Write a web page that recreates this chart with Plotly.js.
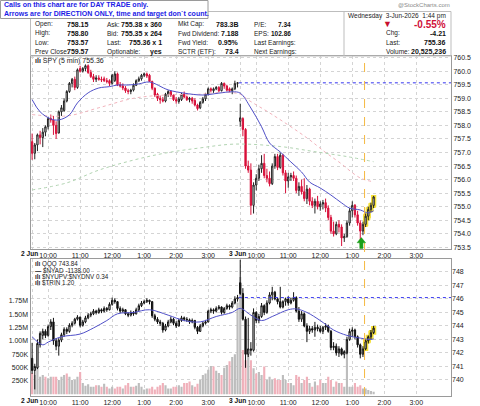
<!DOCTYPE html>
<html><head><meta charset="utf-8">
<script src="https://cdn.plot.ly/plotly-3.0.1.min.js"></script>
<style>html,body{margin:0;padding:0;background:#fff}#chart{width:480px;height:406px}</style>
</head><body><div id="chart"></div>
<script>
// ---------- SPY 5-min bars: 2 Jun (78 bars) then 3 Jun (51 bars) ----------
const spyO = [757.40,756.97,757.28,757.65,757.55,757.75,757.95,758.25,758.20,758.00,757.72,758.50,758.55,758.90,759.25,759.55,759.70,759.40,760.10,760.00,760.10,760.20,759.95,759.80,759.70,759.75,759.70,759.72,759.65,759.65,759.55,759.65,759.90,759.50,759.45,759.38,759.28,759.25,759.30,759.48,759.65,759.72,759.85,759.90,759.85,759.62,759.37,759.15,759.00,758.95,758.90,759.15,759.25,759.12,758.95,758.88,758.95,759.15,759.05,758.95,759.00,758.92,758.75,758.65,758.85,758.98,759.15,759.35,759.28,759.35,759.40,759.28,759.55,759.45,759.35,759.28,759.35,759.55,
 758.15,758.25,757.85,756.50,756.35,755.05,755.80,756.05,756.40,756.60,756.15,756.05,755.85,756.50,756.85,756.45,756.90,756.25,755.95,756.10,756.15,756.05,755.60,755.75,755.55,755.30,755.65,755.20,755.05,755.20,755.00,755.10,755.15,754.95,754.60,754.10,754.00,754.35,754.25,753.85,753.90,754.40,754.85,755.05,754.70,754.40,754.10,754.35,754.65,754.90,755.05];
const spyH = [757.70,757.35,757.70,757.80,757.90,758.00,758.30,758.40,758.35,758.15,758.55,758.75,759.00,759.30,759.60,759.75,759.80,760.10,760.20,760.15,760.25,760.25,760.05,759.90,759.85,759.85,759.80,759.80,759.75,759.70,759.90,760.00,759.95,759.60,759.55,759.45,759.35,759.35,759.55,759.70,759.80,759.90,759.95,759.95,759.90,759.65,759.40,759.20,759.10,759.05,759.20,759.30,759.30,759.15,759.05,759.05,759.20,759.25,759.10,759.05,759.05,759.00,758.80,758.90,759.05,759.20,759.40,759.40,759.40,759.45,759.45,759.60,759.58,759.50,759.40,759.40,759.65,759.60,
 758.80,758.30,757.90,756.70,756.60,755.90,756.20,756.55,756.90,756.95,756.40,756.30,756.60,756.95,756.95,757.00,756.95,756.35,756.25,756.25,756.30,756.15,755.90,756.00,756.05,755.80,755.70,755.35,755.30,755.40,755.20,755.25,755.30,755.05,754.70,754.45,754.45,754.50,754.35,754.00,754.50,754.95,755.20,755.10,754.85,754.50,754.45,754.75,755.00,755.15,755.40];
const spyL = [756.73,756.75,757.05,757.30,757.20,757.60,757.85,758.10,757.65,757.50,757.70,758.35,758.50,758.85,759.20,759.40,759.30,759.35,759.95,759.95,760.00,759.90,759.75,759.60,759.60,759.65,759.60,759.60,759.55,759.45,759.50,759.60,759.45,759.40,759.30,759.20,759.15,759.15,759.25,759.45,759.60,759.65,759.78,759.75,759.60,759.30,759.05,758.90,758.80,758.85,758.85,759.05,759.05,758.90,758.80,758.80,758.90,759.00,758.90,758.85,758.80,758.70,758.55,758.60,758.80,758.90,759.10,759.22,759.20,759.30,759.22,759.25,759.35,759.25,759.22,759.15,759.30,759.40,
 757.95,757.60,756.40,756.25,754.70,754.75,755.60,755.95,756.25,756.05,755.90,755.75,755.80,756.40,756.35,756.40,756.15,755.50,755.70,755.95,755.95,755.50,755.40,755.45,755.20,755.10,755.05,754.95,754.75,754.90,754.85,754.90,754.80,754.50,754.00,753.90,753.95,754.05,753.55,753.70,753.85,754.30,754.60,754.60,754.30,753.60,753.95,754.25,754.50,754.80,754.95];
const spyC = [756.97,757.28,757.65,757.55,757.75,757.95,758.25,758.20,758.00,757.70,758.50,758.65,758.90,759.25,759.55,759.70,759.40,760.05,760.00,760.10,760.20,759.95,759.80,759.70,759.75,759.70,759.68,759.65,759.62,759.55,759.85,759.90,759.50,759.45,759.38,759.28,759.25,759.30,759.48,759.65,759.72,759.85,759.90,759.82,759.62,759.37,759.12,759.00,758.95,758.90,759.15,759.25,759.12,758.95,758.90,758.98,759.15,759.05,758.95,759.00,758.90,758.75,758.62,758.85,758.98,759.15,759.35,759.30,759.35,759.40,759.28,759.55,759.45,759.30,759.28,759.35,759.55,759.57,
 758.28,757.85,756.50,756.35,755.05,755.80,756.05,756.40,756.60,756.15,756.05,755.85,756.50,756.85,756.45,756.90,756.25,755.95,756.10,756.15,756.05,755.60,755.75,755.55,755.30,755.65,755.20,755.05,755.20,755.00,755.10,755.15,754.95,754.60,754.10,754.00,754.35,754.25,753.85,753.90,754.40,754.85,755.05,754.70,754.40,754.10,754.35,754.65,754.90,755.05,755.36];

// SPY moving averages (bar index, value)
const spyMaBlueIdx = [0,3,7,10,14,17,21,25,29,32,36,40,44,51,57,64,70,75,78,82,86,89,93,97,101,104,108,112,116,119,123,126,128];
const spyMaBlueVal = [758.95,758.50,758.24,758.20,758.39,758.83,759.20,759.38,759.43,759.49,759.49,759.53,759.60,759.31,759.19,759.12,759.19,759.24,759.19,758.64,757.95,757.35,757.02,756.65,756.28,755.91,755.69,755.43,755.14,754.95,754.88,754.77,754.85];
const spyMaPinkIdx = [0,13,25,38,50,63,72,78,81,90,103,110,115,123,128];
const spyMaPinkVal = [758.40,758.35,758.65,759.00,759.12,759.15,759.22,759.15,758.94,758.40,757.54,757.00,756.65,756.06,755.92];
const spyMaGreenIdx = [0,13,25,38,50,63,76,93,106,118,128];
const spyMaGreenVal = [755.62,755.88,756.35,756.72,756.98,757.17,757.31,757.22,757.03,756.85,756.66];

// ---------- QQQ 5-min bars ----------
const qqqO = [741.60,740.70,740.90,742.60,743.30,743.60,743.30,743.95,744.30,742.90,742.50,742.95,743.35,743.75,743.60,744.05,744.20,744.50,744.65,744.05,744.30,744.60,744.80,744.90,745.10,745.00,745.20,745.10,745.30,745.20,745.60,745.90,745.80,745.30,745.10,745.20,744.90,744.80,745.00,744.90,745.20,745.50,745.70,745.80,745.90,745.80,744.75,744.50,744.30,744.20,743.70,744.00,744.30,744.50,744.20,744.00,744.40,744.60,744.50,744.45,744.30,744.40,743.90,743.60,744.00,744.20,744.30,745.10,745.20,745.10,745.30,745.40,745.00,745.30,745.50,745.40,745.70,746.00,
 747.20,746.40,744.50,741.90,742.30,742.20,745.00,744.40,744.70,745.50,745.00,745.70,746.30,746.50,746.00,745.80,745.40,745.80,746.00,745.70,745.90,746.10,745.10,744.50,744.90,744.00,743.60,743.80,743.70,743.90,743.80,743.60,743.90,744.00,743.60,742.40,742.50,742.00,742.30,741.90,742.00,743.00,743.60,743.70,743.20,742.60,741.90,742.30,742.90,743.20,743.50];
const qqqH = [742.75,741.20,743.00,743.60,743.80,743.75,744.10,744.50,744.60,743.10,743.10,743.50,743.90,743.90,744.20,744.35,744.60,744.80,744.70,744.45,744.75,744.95,745.05,745.25,745.20,745.35,745.30,745.45,745.40,745.75,746.10,746.05,745.85,745.45,745.35,745.25,745.00,745.15,745.10,745.35,745.65,745.85,745.95,746.05,745.95,745.85,744.90,744.65,744.45,744.30,744.15,744.45,744.70,744.60,744.35,744.55,744.75,744.70,744.65,744.55,744.55,744.45,744.00,744.15,744.35,744.45,745.20,745.35,745.30,745.45,745.55,745.45,745.40,745.65,745.60,745.85,746.20,746.30,
 748.90,746.80,744.70,744.60,742.80,745.30,745.10,744.90,745.70,745.60,745.90,746.50,746.90,746.60,746.10,746.90,745.90,746.10,746.20,746.10,746.50,746.20,745.40,745.10,745.00,744.20,744.00,744.00,744.30,744.10,744.00,744.00,744.20,744.10,743.70,742.80,742.70,742.50,742.40,742.20,743.20,743.80,743.90,743.80,743.30,742.70,742.50,743.00,743.30,743.70,744.00];
const qqqL = [740.45,739.30,740.80,742.40,743.00,743.10,743.20,743.70,742.60,742.20,741.80,742.80,743.20,743.40,743.50,743.90,744.10,744.40,743.90,743.95,744.20,744.50,744.65,744.80,744.85,744.90,744.95,745.00,745.05,745.15,745.50,745.65,745.15,744.95,745.00,744.80,744.65,744.70,744.75,744.85,745.10,745.40,745.60,745.70,745.60,744.60,744.35,744.15,744.00,743.50,743.60,743.90,744.20,744.05,743.85,743.95,744.30,744.35,744.30,744.15,744.20,743.75,743.40,743.55,743.90,744.10,744.25,744.95,744.90,745.00,745.20,744.85,744.90,745.20,745.20,745.30,745.60,745.80,
 746.30,744.40,740.90,741.70,741.80,742.10,744.20,744.20,744.60,744.80,744.90,745.60,745.90,745.90,745.60,745.30,745.30,745.50,745.50,745.60,745.80,745.00,744.30,744.30,743.90,742.80,743.40,743.50,743.20,743.60,743.50,743.40,743.70,743.50,742.20,742.20,741.80,741.70,741.80,741.60,741.90,742.90,743.20,743.00,742.40,741.60,741.70,742.20,742.70,743.00,743.40];
const qqqC = [740.70,741.00,742.70,743.45,743.60,743.30,743.95,744.30,742.90,742.50,742.95,743.35,743.75,743.60,744.05,744.20,744.50,744.65,744.05,744.30,744.60,744.80,744.90,745.10,745.00,745.20,745.10,745.30,745.20,745.60,745.90,745.80,745.30,745.10,745.20,744.90,744.80,745.00,744.90,745.20,745.50,745.70,745.80,745.90,745.80,744.75,744.50,744.30,744.20,743.70,744.00,744.30,744.50,744.20,744.00,744.40,744.60,744.50,744.45,744.30,744.40,743.90,743.60,744.00,744.20,744.30,745.10,745.20,745.10,745.30,745.40,745.00,745.30,745.50,745.40,745.70,746.00,746.10,
 746.40,744.50,741.90,742.30,742.20,745.00,744.40,744.70,745.50,745.00,745.70,746.30,746.50,746.00,745.80,745.40,745.80,746.00,745.70,745.90,746.10,745.10,744.50,744.90,744.00,743.60,743.80,743.70,743.90,743.80,743.60,743.90,744.00,743.60,742.40,742.50,742.00,742.30,741.90,742.10,743.00,743.60,743.70,743.20,742.60,741.90,742.30,742.90,743.20,743.50,743.84];
// volume in millions of shares
const qqqVol = [0.40,0.36,0.51,0.33,0.36,0.33,0.30,0.33,0.33,0.33,0.27,0.33,0.36,0.39,0.33,0.27,0.27,0.33,0.42,0.21,0.16,0.19,0.14,0.14,0.17,0.17,0.14,0.20,0.14,0.11,0.14,0.11,0.14,0.14,0.11,0.17,0.21,0.14,0.14,0.16,0.21,0.14,0.09,0.11,0.11,0.14,0.09,0.14,0.17,0.21,0.17,0.11,0.11,0.14,0.14,0.17,0.14,0.21,0.21,0.24,0.17,0.14,0.20,0.27,0.36,0.39,0.46,0.53,0.52,0.44,0.40,0.36,0.50,0.55,0.62,0.70,0.75,1.72,
 2.20,0.83,0.64,0.77,0.64,0.49,0.39,0.42,0.36,0.52,0.27,0.33,0.27,0.30,0.27,0.27,0.36,0.27,0.21,0.21,0.17,0.36,0.33,0.21,0.27,0.33,0.21,0.14,0.24,0.17,0.27,0.21,0.21,0.33,0.27,0.14,0.24,0.21,0.21,0.14,1.02,0.14,0.14,0.21,0.14,0.17,0.11,0.11,0.08,0.06,0.05];
const qqqMaIdx = [0,4,6,11,18,23,28,32,38,44,51,57,63,69,75,78,82,86,90,96,99,103,108,113,118,123,127,128];
const qqqMaVal = [743.2,742.6,742.8,743.2,743.4,743.85,744.4,744.9,745.0,745.2,744.8,744.4,744.3,744.7,745.0,745.3,744.8,744.4,744.7,745.2,745.26,745.0,744.4,743.7,743.3,743.1,743.0,743.05];

// ---------- axis labels ----------
const timeTickIdx = [0,6,18,30,42,54,66,78,84,96,108,120,132,144];
const timeTickText = ['','10:00','11:00','12:00','1:00','2:00','3:00','','10:00','11:00','12:00','1:00','2:00','3:00'];
const dayStartIdx = [0, 78];
const dayLabels = ['2 Jun', '3 Jun'];
const spyTicks = [753.5,754.0,754.5,755.0,755.5,756.0,756.5,757.0,757.5,758.0,758.5,759.0,759.5,760.0,760.5];
const qqqTicks = [740,741,742,743,744,745,746,747,748];
const volTicks = [0.25,0.50,0.75,1.00,1.25,1.50,1.75];
const volTickText = ['250K','500K','750K','1.00M','1.25M','1.50M','1.75M'];
const highlightIdx = [125,126,127,128];
const spyPrevClose = 759.57, qqqPrevClose = 746.10;
const markerIdx = 124.6, arrowIdx = 123.4;

// header info
const infoLabels1 = ['Open:','High:','Low:','Prev Close:'], infoValues1 = ['758.15','758.80','753.57','759.57'];
const infoLabels2 = ['Ask:','Bid:','Last:','Optionable:'], infoValues2 = ['755.38 x 360','755.35 x 264','755.36 x 1','yes'];
const infoLabels3 = ['Mkt Cap:','Fwd Dividend:','Fwd Yield:','SCTR (ETF):'], infoValues3 = ['783.3B','7.188','0.95%','73.4'];
const infoLabels4 = ['P/E:','EPS:','Last Earnings:','Next Earnings:'], infoValues4 = ['7.34','102.86','',''];
const dateText = 'Wednesday  3-Jun-2026  1:44 pm';
const pctText = '-0.55%', chgText = '-4.21', lastText = '755.36', volText = '20,525,236';
const legendBottom = ['QQQ 743.84','$NYAD -1138.00','$NYUPV:$NYDNV 0.34','$TRIN 1.20'];

// ---------- build ----------
const W = 480, H = 406;
const px = v => v / W, py = v => 1 - v / H;
const F = 'Liberation Sans, Arial, sans-serif';
const idx = spyC.map((_, i) => i);
const pick = (arr, ids) => ids.map(i => arr[i]);

const volColors = qqqC.map((c, i) => (c < (i === 0 ? qqqO[0] : qqqC[i - 1])) ? '#f0b0ba' : '#bdbdbd');

const traces = [
  {type:'bar', x: idx, y: qqqVol, xaxis:'x2', yaxis:'y2', marker:{color: volColors, line:{width:0}}, width:0.8, hoverinfo:'skip'},
  {type:'scatter', mode:'lines', x: qqqMaIdx, y: qqqMaVal, xaxis:'x2', yaxis:'y3', line:{color:'#5050c8', width:1, shape:'spline'}},
  {type:'candlestick', x: highlightIdx, open: pick(qqqO, highlightIdx), high: pick(qqqH, highlightIdx), low: pick(qqqL, highlightIdx), close: pick(qqqC, highlightIdx), xaxis:'x2', yaxis:'y3',
   increasing:{line:{color:'#f4e03a', width:4}, fillcolor:'#f4e03a'}, decreasing:{line:{color:'#f4e03a', width:4}, fillcolor:'#f4e03a'}},
  {type:'candlestick', x: idx, open: qqqO, high: qqqH, low: qqqL, close: qqqC, xaxis:'x2', yaxis:'y3',
   increasing:{line:{color:'#111', width:1}, fillcolor:'#ffffff'}, decreasing:{line:{color:'#111', width:1}, fillcolor:'#111'}},

  {type:'scatter', mode:'lines', x: spyMaPinkIdx, y: spyMaPinkVal, xaxis:'x', yaxis:'y', line:{color:'#f2b3bc', width:1, dash:'dot', shape:'spline'}},
  {type:'scatter', mode:'lines', x: spyMaGreenIdx, y: spyMaGreenVal, xaxis:'x', yaxis:'y', line:{color:'#b2d4b2', width:1, dash:'dot', shape:'spline'}},
  {type:'scatter', mode:'lines', x: spyMaBlueIdx, y: spyMaBlueVal, xaxis:'x', yaxis:'y', line:{color:'#5050c8', width:1, shape:'spline'}},
  {type:'candlestick', x: highlightIdx, open: pick(spyO, highlightIdx), high: pick(spyH, highlightIdx), low: pick(spyL, highlightIdx), close: pick(spyC, highlightIdx), xaxis:'x', yaxis:'y',
   increasing:{line:{color:'#f4e03a', width:4}, fillcolor:'#f4e03a'}, decreasing:{line:{color:'#f4e03a', width:4}, fillcolor:'#f4e03a'}},
  {type:'candlestick', x: idx, open: spyO, high: spyH, low: spyL, close: spyC, xaxis:'x', yaxis:'y',
   increasing:{line:{color:'#222', width:1}, fillcolor:'#ffffff'}, decreasing:{line:{color:'#d8103a', width:1}, fillcolor:'#d8103a'}}
];

const xdom = [px(30.5), px(451)];
const xr = [-0.6, 157];
const gridC = '#d4d4d4';
const tickF = {family:F, size:7, color:'#222'};
const xBase = {domain: xdom, range: xr, tickmode:'array', tickvals: timeTickIdx, ticktext: timeTickText, tickangle:0, tickfont: tickF,
  showgrid:true, gridcolor: gridC, griddash:'dot', gridwidth:1, zeroline:false, showline:true, linecolor:'#9a9a9a', mirror:true, ticks:'', ticklen:0,
  rangeslider:{visible:false}, fixedrange:true};

const layout = {
  width: W, height: H, margin:{l:0, r:0, t:0, b:0}, paper_bgcolor:'#fff', plot_bgcolor:'#fff', showlegend:false,
  font:{family:F, size:7, color:'#222'},
  xaxis: Object.assign({}, xBase, {anchor:'y'}),
  xaxis2: Object.assign({}, xBase, {anchor:'y2', matches:'x'}),
  yaxis: {domain:[py(249), py(56)], range:[753.44, 760.56], side:'right', tickmode:'array', tickvals: spyTicks, tickformat:'.1f', tickfont: tickF,
    showgrid:true, gridcolor: gridC, griddash:'dot', zeroline:false, showline:true, linecolor:'#9a9a9a', mirror:true, ticks:'', fixedrange:true},
  yaxis2: {domain:[py(396), py(259)], range:[-0.032, 2.538], side:'left', tickmode:'array', tickvals: volTicks, ticktext: volTickText, tickfont: tickF,
    showgrid:false, zeroline:false, showline:true, linecolor:'#9a9a9a', mirror:true, ticks:'', fixedrange:true},
  yaxis3: {overlaying:'y2', anchor:'x2', range:[738.81, 748.96], side:'right', tickmode:'array', tickvals: qqqTicks, tickfont: tickF,
    showgrid:true, gridcolor: gridC, griddash:'dot', zeroline:false, showline:false, ticks:'', fixedrange:true},
  shapes: [
    {type:'rect', xref:'paper', yref:'paper', x0:px(30.5), x1:px(451), y0:py(56), y1:py(11.5), line:{color:'#bdbdbd', width:1}, fillcolor:'rgba(0,0,0,0)'},
    {type:'line', xref:'paper', yref:'paper', x0:px(344), x1:px(344), y0:py(56), y1:py(11.5), line:{color:'#bdbdbd', width:1}},
    {type:'rect', xref:'paper', yref:'paper', x0:px(0.5), x1:px(208), y0:py(18.5), y1:py(0.5), line:{color:'#9a9a9a', width:1}, fillcolor:'#fff'},
    {type:'line', xref:'x', yref:'y', x0:77.5, x1:xr[1], y0:spyPrevClose, y1:spyPrevClose, line:{color:'#3434f0', width:1, dash:'dot'}},
    {type:'line', xref:'x2', yref:'y3', x0:77.5, x1:xr[1], y0:qqqPrevClose, y1:qqqPrevClose, line:{color:'#3434f0', width:1, dash:'dot'}},
    {type:'line', xref:'x', yref:'paper', x0:markerIdx, x1:markerIdx, y0:py(396), y1:py(56), line:{color:'#f5b942', width:1, dash:'dash'}},
    {type:'path', xref:'x', yref:'y', fillcolor:'#18a018', line:{color:'#18a018', width:0.5},
     path:`M ${arrowIdx-1.6} 753.67 L ${arrowIdx} 753.86 L ${arrowIdx+1.6} 753.67 L ${arrowIdx+0.6} 753.67 L ${arrowIdx+0.6} 753.46 L ${arrowIdx-0.6} 753.46 L ${arrowIdx-0.6} 753.67 Z`}
  ],
  annotations: []
};

const A = layout.annotations;
function txt(x, y, text, opts) {
  A.push(Object.assign({xref:'paper', yref:'paper', x:px(x), y:py(y), text:text, showarrow:false, xanchor:'left', yanchor:'middle',
    font:{family:F, size:6.5, color:'#222'}}, opts || {}));
}
dayStartIdx.forEach((d, j) => {
  [253.5, 400.5].forEach(yy => A.push({xref:'x', yref:'paper', x:d + 3.1, y:py(yy), text:'<b>' + dayLabels[j] + '</b>', showarrow:false,
    xanchor:'right', yanchor:'middle', font:{family:F, size:6.6, color:'#111'}}));
});
const valF = {family:F, size:7, color:'#111'};
const valF2 = {family:F, size:6.5, color:'#111'};
txt(1.5, 5.5, '<b>Calls on this chart are for DAY TRADE only.</b>', {font:{family:F, size:7, color:'#1c1ce6'}});
txt(1.5, 14, '<b>Arrows are for DIRECTION ONLY, time and target don`t count.</b>', {font:{family:F, size:7, color:'#1c1ce6'}});
txt(452, 5, '@StockCharts.com', {xanchor:'right', font:{family:F, size:6, color:'#8a8a8a'}});
const rowY = [24.5, 33.5, 42.5, 51.5];
rowY.forEach((y, r) => {
  txt(33, y, infoLabels1[r]); txt(91, y, '<b>' + infoValues1[r] + '</b>', {xanchor:'right', font:valF});
  txt(105, y, infoLabels2[r]); txt(164, y, '<b>' + infoValues2[r] + '</b>', {xanchor:'right', font:valF});
  txt(176, y, infoLabels3[r]); txt(241, y, '<b>' + infoValues3[r] + '</b>', {xanchor:'right', font:valF});
  txt(251.5, y, infoLabels4[r]);
  if (infoValues4[r]) txt(293, y, '<b>' + infoValues4[r] + '</b>', {xanchor:'right', font:valF2});
});
txt(448, 15.5, dateText, {xanchor:'right'});
txt(387, 24.5, '▼', {xanchor:'center', font:{family:F, size:9, color:'#c8102e'}});
txt(448, 24.5, '<b>' + pctText + '</b>', {xanchor:'right', font:{family:F, size:10, color:'#d0103a'}});
txt(384, 33.5, 'Chg:'); txt(448, 33.5, '<b>' + chgText + '</b>', {xanchor:'right', font:valF});
txt(384, 42.5, 'Last:'); txt(448, 42.5, '<b>' + lastText + '</b>', {xanchor:'right', font:valF});
txt(384, 51.5, 'Volume:'); txt(448, 51.5, '<b>' + volText + '</b>', {xanchor:'right', font:valF});
txt(32.5, 61, '<b>ılı</b> SPY (5 min) 755.36', {font:{family:F, size:7, color:'#222'}});
const legIcons = ['<b>ılı</b>', '<b>—</b>', '<b>ılı</b>', '<b>ılı</b>'];
legendBottom.forEach((t, r) => txt(32.5, 264 + r * 6.2, legIcons[r] + ' ' + t, {font:{family:F, size:6.3, color:'#222'}}));

Plotly.newPlot('chart', traces, layout, {staticPlot:true, displayModeBar:false});
</script></body></html>
